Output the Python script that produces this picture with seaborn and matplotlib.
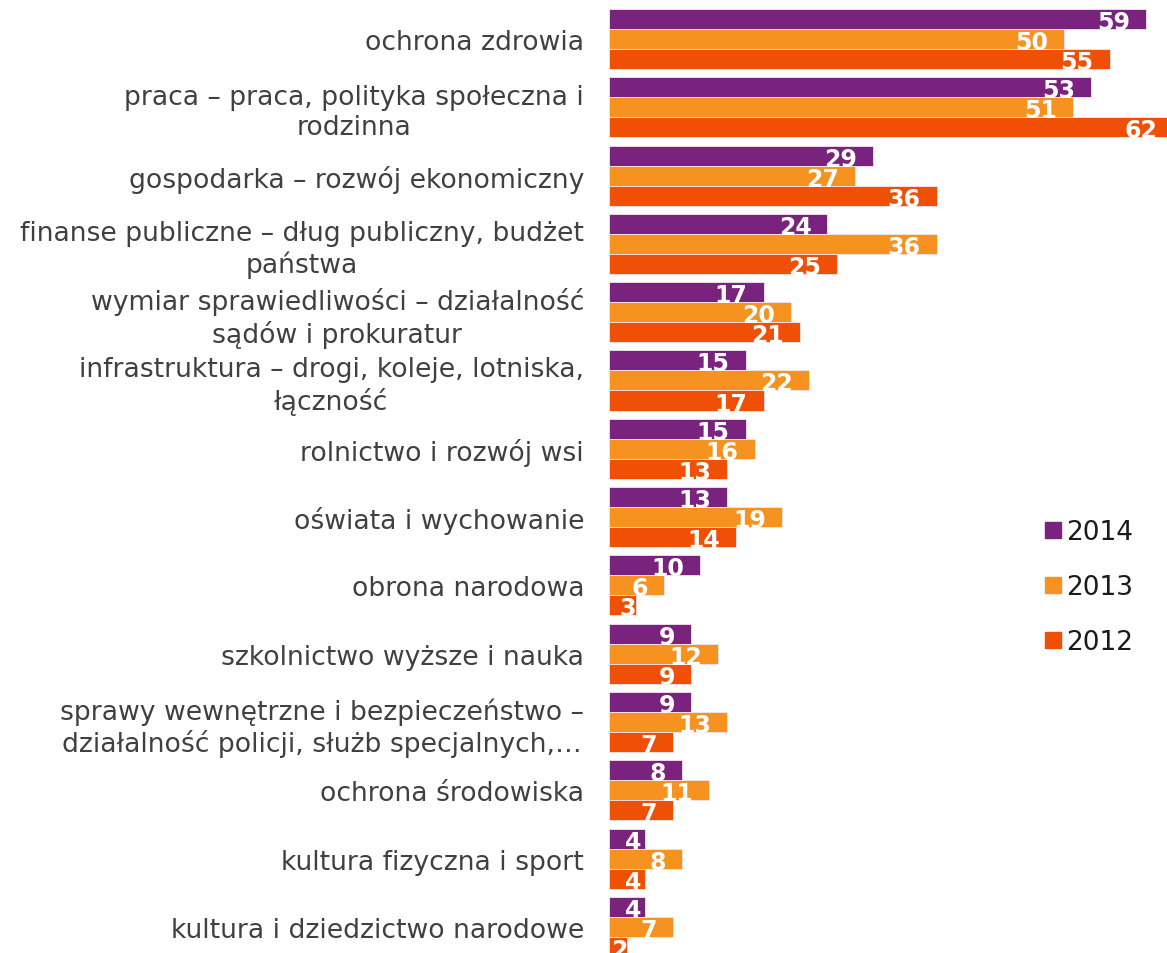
import matplotlib
matplotlib.use("Agg")
import matplotlib.pyplot as plt
from matplotlib.lines import Line2D
import seaborn as sns
import pandas as pd

categories = [
    "ochrona zdrowia",
    "praca – praca, polityka społeczna i\nrodzinna",
    "gospodarka – rozwój ekonomiczny",
    "finanse publiczne – dług publiczny, budżet\npaństwa",
    "wymiar sprawiedliwości – działalność\nsądów i prokuratur",
    "infrastruktura – drogi, koleje, lotniska,\nłączność",
    "rolnictwo i rozwój wsi",
    "oświata i wychowanie",
    "obrona narodowa",
    "szkolnictwo wyższe i nauka",
    "sprawy wewnętrzne i bezpieczeństwo –\ndziałalność policji, służb specjalnych,…",
    "ochrona środowiska",
    "kultura fizyczna i sport",
    "kultura i dziedzictwo narodowe",
]
years = ["2014", "2013", "2012"]
values_2014 = [59, 53, 29, 24, 17, 15, 15, 13, 10, 9, 9, 8, 4, 4]
values_2013 = [50, 51, 27, 36, 20, 22, 16, 19, 6, 12, 13, 11, 8, 7]
values_2012 = [55, 62, 36, 25, 21, 17, 13, 14, 3, 9, 7, 7, 4, 2]
colors = ["#7A237E", "#F59220", "#EF5005"]

series = {"2014": values_2014, "2013": values_2013, "2012": values_2012}
rows = []
for y in years:
    for c, v in zip(categories, series[y]):
        rows.append({"kategoria": c, "rok": y, "wartosc": v})
df = pd.DataFrame(rows)

sns.set_theme(style="white")
plt.rcParams["font.family"] = ["DejaVu Sans"]

W, H = 1167, 954
fig = plt.figure(figsize=(W / 100, H / 100), dpi=100)
ax_left = 609 / W
top_px = 5.85
bottom_px = 962.0
ax = fig.add_axes([ax_left, (H - bottom_px) / H, 1 - ax_left, (bottom_px - top_px) / H])

sns.barplot(data=df, y="kategoria", x="wartosc", hue="rok", order=categories,
            hue_order=years, palette=colors, orient="h", width=0.88,
            saturation=1, dodge=True, legend=False, ax=ax,
            edgecolor="#f4e6ee", linewidth=0.6)

xmax = 558 / 9.1
ax.set_xlim(0, xmax)
ax.set_ylim(13.5, -0.5)
for s in ax.spines.values():
    s.set_visible(False)
ax.set_xticks([])
ax.set_xlabel("")
ax.set_ylabel("")
ax.tick_params(axis="y", length=0, pad=18, labelsize=19.2, labelcolor="#404040")
for t in ax.get_yticklabels():
    t.set_multialignment("center")

px_per_unit = 9.1
off = 16 / px_per_unit
dy = 3.0 / 68.3
for cont in ax.containers:
    for bar in cont:
        v = bar.get_width()
        xr = max(v - off, min(v, 3.6))
        yc = bar.get_y() + bar.get_height() / 2 + dy
        ax.text(xr, yc, f"{int(round(v))}", ha="right", va="center",
                color="white", fontsize=17, fontweight="bold", clip_on=False)

handles = [Line2D([0], [0], marker="s", linestyle="none", markersize=11,
                  markerfacecolor=c, markeredgecolor=c) for c in colors]
leg = fig.legend(handles, years, loc="upper left",
                 bbox_to_anchor=(1032 / W, 1 - 507 / H), frameon=False,
                 fontsize=19, labelspacing=1.1, handlelength=0.6,
                 handletextpad=0.2, borderpad=0)
for t in leg.get_texts():
    t.set_color("#1a1a1a")

fig.savefig("out.png", dpi=100)
